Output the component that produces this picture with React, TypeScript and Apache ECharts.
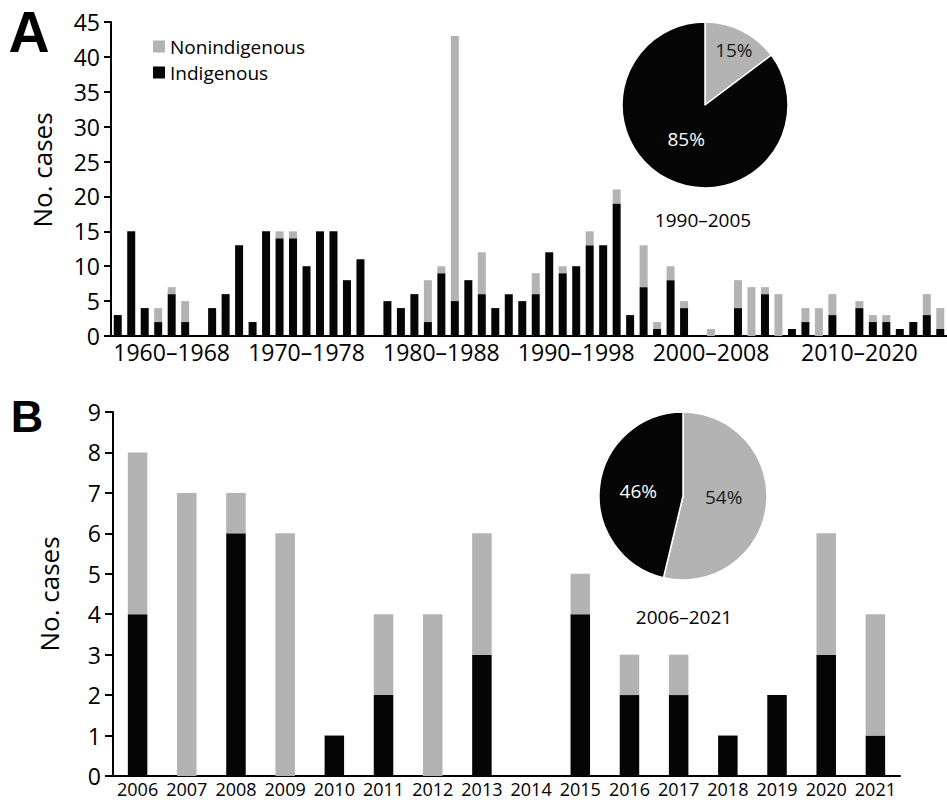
import React, { useEffect, useRef } from "react";
import * as echarts from "echarts";

// Panel A: one category per year, 1960–2021
const years: string[] = [];
for (let y = 1960; y <= 2021; y++) years.push(String(y));

const indigenous = [
  3, 15, 4, 2, 6, 2, 0, 4, 6, 13,
  2, 15, 14, 14, 10, 15, 15, 8, 11, 0,
  5, 4, 6, 2, 9, 5, 8, 6, 4, 6,
  5, 6, 12, 9, 10, 13, 13, 19, 3, 7,
  1, 8, 4, 0, 0, 0, 4, 0, 6, 0,
  1, 2, 0, 3, 0, 4, 2, 2, 1, 2,
  3, 1,
];
const nonindigenous = [
  0, 0, 0, 2, 1, 3, 0, 0, 0, 0,
  0, 0, 1, 1, 0, 0, 0, 0, 0, 0,
  0, 0, 0, 6, 1, 38, 0, 6, 0, 0,
  0, 3, 0, 1, 0, 2, 0, 2, 0, 6,
  1, 2, 1, 0, 1, 0, 4, 7, 1, 6,
  0, 2, 4, 3, 0, 1, 1, 1, 0, 0,
  3, 3,
];

// Panel A x-axis labels and the year slot under which each is centred
const periodLabels = ["1960–1968", "1970–1978", "1980–1988", "1990–1998", "2000–2008", "2010–2020"];
const periodLabelYears = ["1964", "1974", "1984", "1994", "2004", "2015"];

// Panel B: 2006–2021
const startB = years.indexOf("2006");
const yearsB = years.slice(startB);
const indigenousB = indigenous.slice(startB);
const nonindigenousB = nonindigenous.slice(startB);

// Pie ranges
const pieRangeA = ["1990", "2005"];
const pieRangeB = ["2006", "2021"];

function rangeSum(arr: number[], range: string[]) {
  const a = years.indexOf(range[0]);
  const b = years.indexOf(range[1]);
  let s = 0;
  for (let i = a; i <= b; i++) s += arr[i];
  return s;
}

const FONT = "'Open Sans', 'Noto Sans', sans-serif";
const LETTER_FONT = "'Liberation Sans', Arial, sans-serif";
const BLACK = "#050505";
const GRAY = "#b3b3b3";

function pieData(range: string[]) {
  return [
    {
      name: "Nonindigenous",
      value: rangeSum(nonindigenous, range),
      itemStyle: { color: GRAY },
      label: { color: "#1a1a1a" },
    },
    {
      name: "Indigenous",
      value: rangeSum(indigenous, range),
      itemStyle: { color: BLACK },
      label: { color: "#ffffff" },
    },
  ];
}

export default function App() {
  const ref = useRef<HTMLDivElement>(null);
  useEffect(() => {
    if (!ref.current) return;
    const chart = echarts.init(ref.current, undefined, { renderer: "svg" });
    const axisLine = { show: true, lineStyle: { color: "#000", width: 2 } };
    const option: any = {
      animation: false,
      backgroundColor: "#fff",
      textStyle: { fontFamily: FONT },
      legend: {
        left: 148,
        top: 32,
        orient: "vertical",
        icon: "rect",
        itemWidth: 12,
        itemHeight: 12,
        itemGap: 7,
        data: ["Nonindigenous", "Indigenous"],
        textStyle: { fontSize: 19, color: "#000", fontFamily: FONT },
        selectedMode: false,
      },
      grid: [
        { left: 111, top: 22, width: 838, height: 314 },
        { left: 113, top: 412, width: 787, height: 364 },
      ],
      xAxis: [
        {
          type: "category",
          gridIndex: 0,
          data: years,
          axisLine,
          axisTick: { show: false },
          axisLabel: {
            interval: (i: number) => periodLabelYears.includes(years[i]),
            formatter: (v: string) => periodLabels[periodLabelYears.indexOf(v)] ?? "",
            fontSize: 23,
            color: "#000",
            margin: 4,
            fontFamily: FONT,
          },
        },
        {
          type: "category",
          gridIndex: 1,
          data: yearsB,
          axisLine,
          axisTick: { show: false },
          axisLabel: {
            fontSize: 18,
            lineHeight: 16,
            color: "#000",
            margin: 5,
            fontFamily: FONT,
            interval: 0,
          },
        },
      ],
      yAxis: [
        {
          type: "value",
          gridIndex: 0,
          min: 0,
          max: 45,
          interval: 5,
          axisLine,
          axisTick: { show: true, length: 7, lineStyle: { color: "#000", width: 2 } },
          axisLabel: { fontSize: 23, color: "#000", margin: 11, fontFamily: FONT },
          splitLine: { show: false },
          name: "No. cases",
          nameLocation: "middle",
          nameGap: 56,
          nameTextStyle: { fontSize: 26, color: "#000", fontFamily: FONT, padding: [0, 0, 0, 18] },
        },
        {
          type: "value",
          gridIndex: 1,
          min: 0,
          max: 9,
          interval: 1,
          axisLine,
          axisTick: { show: true, length: 8, lineStyle: { color: "#000", width: 2 } },
          axisLabel: { fontSize: 23, color: "#000", margin: 12, fontFamily: FONT },
          splitLine: { show: false },
          name: "No. cases",
          nameLocation: "middle",
          nameGap: 51,
          nameTextStyle: { fontSize: 26, color: "#000", fontFamily: FONT },
        },
      ],
      series: [
        {
          type: "bar",
          name: "Indigenous",
          xAxisIndex: 0,
          yAxisIndex: 0,
          stack: "A",
          data: indigenous,
          barWidth: 8,
          itemStyle: { color: BLACK },
        },
        {
          type: "bar",
          name: "Nonindigenous",
          xAxisIndex: 0,
          yAxisIndex: 0,
          stack: "A",
          data: nonindigenous,
          barWidth: 8,
          itemStyle: { color: GRAY },
        },
        {
          type: "bar",
          name: "Indigenous",
          xAxisIndex: 1,
          yAxisIndex: 1,
          stack: "B",
          data: indigenousB,
          barWidth: 19.5,
          itemStyle: { color: BLACK },
        },
        {
          type: "bar",
          name: "Nonindigenous",
          xAxisIndex: 1,
          yAxisIndex: 1,
          stack: "B",
          data: nonindigenousB,
          barWidth: 19.5,
          itemStyle: { color: GRAY },
        },
        {
          type: "pie",
          center: [705, 105],
          radius: 83,
          startAngle: 90,
          clockwise: true,
          data: pieData(pieRangeA),
          itemStyle: { borderColor: "#fff", borderWidth: 1.5 },
          label: {
            show: true,
            position: "inside",
            formatter: (p: any) => Math.round(p.percent) + "%",
            fontSize: 19,
            fontFamily: FONT,
          },
          labelLayout: (p: any) => (p.dataIndex === 0 ? { dx: 9, dy: -15 } : { dx: 1, dy: -6 }),
          labelLine: { show: false },
          emphasis: { disabled: true },
        },
        {
          type: "pie",
          center: [683, 496],
          radius: 84,
          startAngle: 90,
          clockwise: true,
          data: pieData(pieRangeB),
          itemStyle: { borderColor: "#fff", borderWidth: 1.5 },
          label: {
            show: true,
            position: "inside",
            formatter: (p: any) => Math.round(p.percent) + "%",
            fontSize: 19,
            fontFamily: FONT,
          },
          labelLayout: (p: any) => (p.dataIndex === 0 ? { dx: -4, dy: -4 } : { dx: 0, dy: 0 }),
          labelLine: { show: false },
          emphasis: { disabled: true },
        },
      ],
      graphic: [
        {
          type: "text",
          x: 29,
          y: 32,
          style: {
            text: "A",
            fontSize: 57,
            lineHeight: 46,
            fontWeight: "bold",
            fill: "#000",
            fontFamily: LETTER_FONT,
            align: "center",
            verticalAlign: "middle",
          },
        },
        {
          type: "text",
          x: 27,
          y: 416,
          style: {
            text: "B",
            fontSize: 45,
            lineHeight: 38,
            fontWeight: "bold",
            fill: "#000",
            fontFamily: LETTER_FONT,
            align: "center",
            verticalAlign: "middle",
          },
        },
        {
          type: "text",
          x: 703,
          y: 220,
          style: {
            text: pieRangeA.join("–"),
            fontSize: 19,
            fill: "#000",
            fontFamily: FONT,
            align: "center",
            verticalAlign: "middle",
          },
        },
        {
          type: "text",
          x: 684,
          y: 617,
          style: {
            text: pieRangeB.join("–"),
            fontSize: 19,
            fill: "#000",
            fontFamily: FONT,
            align: "center",
            verticalAlign: "middle",
          },
        },
      ],
    };
    chart.setOption(option);
    return () => chart.dispose();
  }, []);
  return (
    <div
      ref={ref}
      style={{ position: "absolute", left: 0, top: 0, width: 947, height: 800, background: "#fff" }}
    />
  );
}
